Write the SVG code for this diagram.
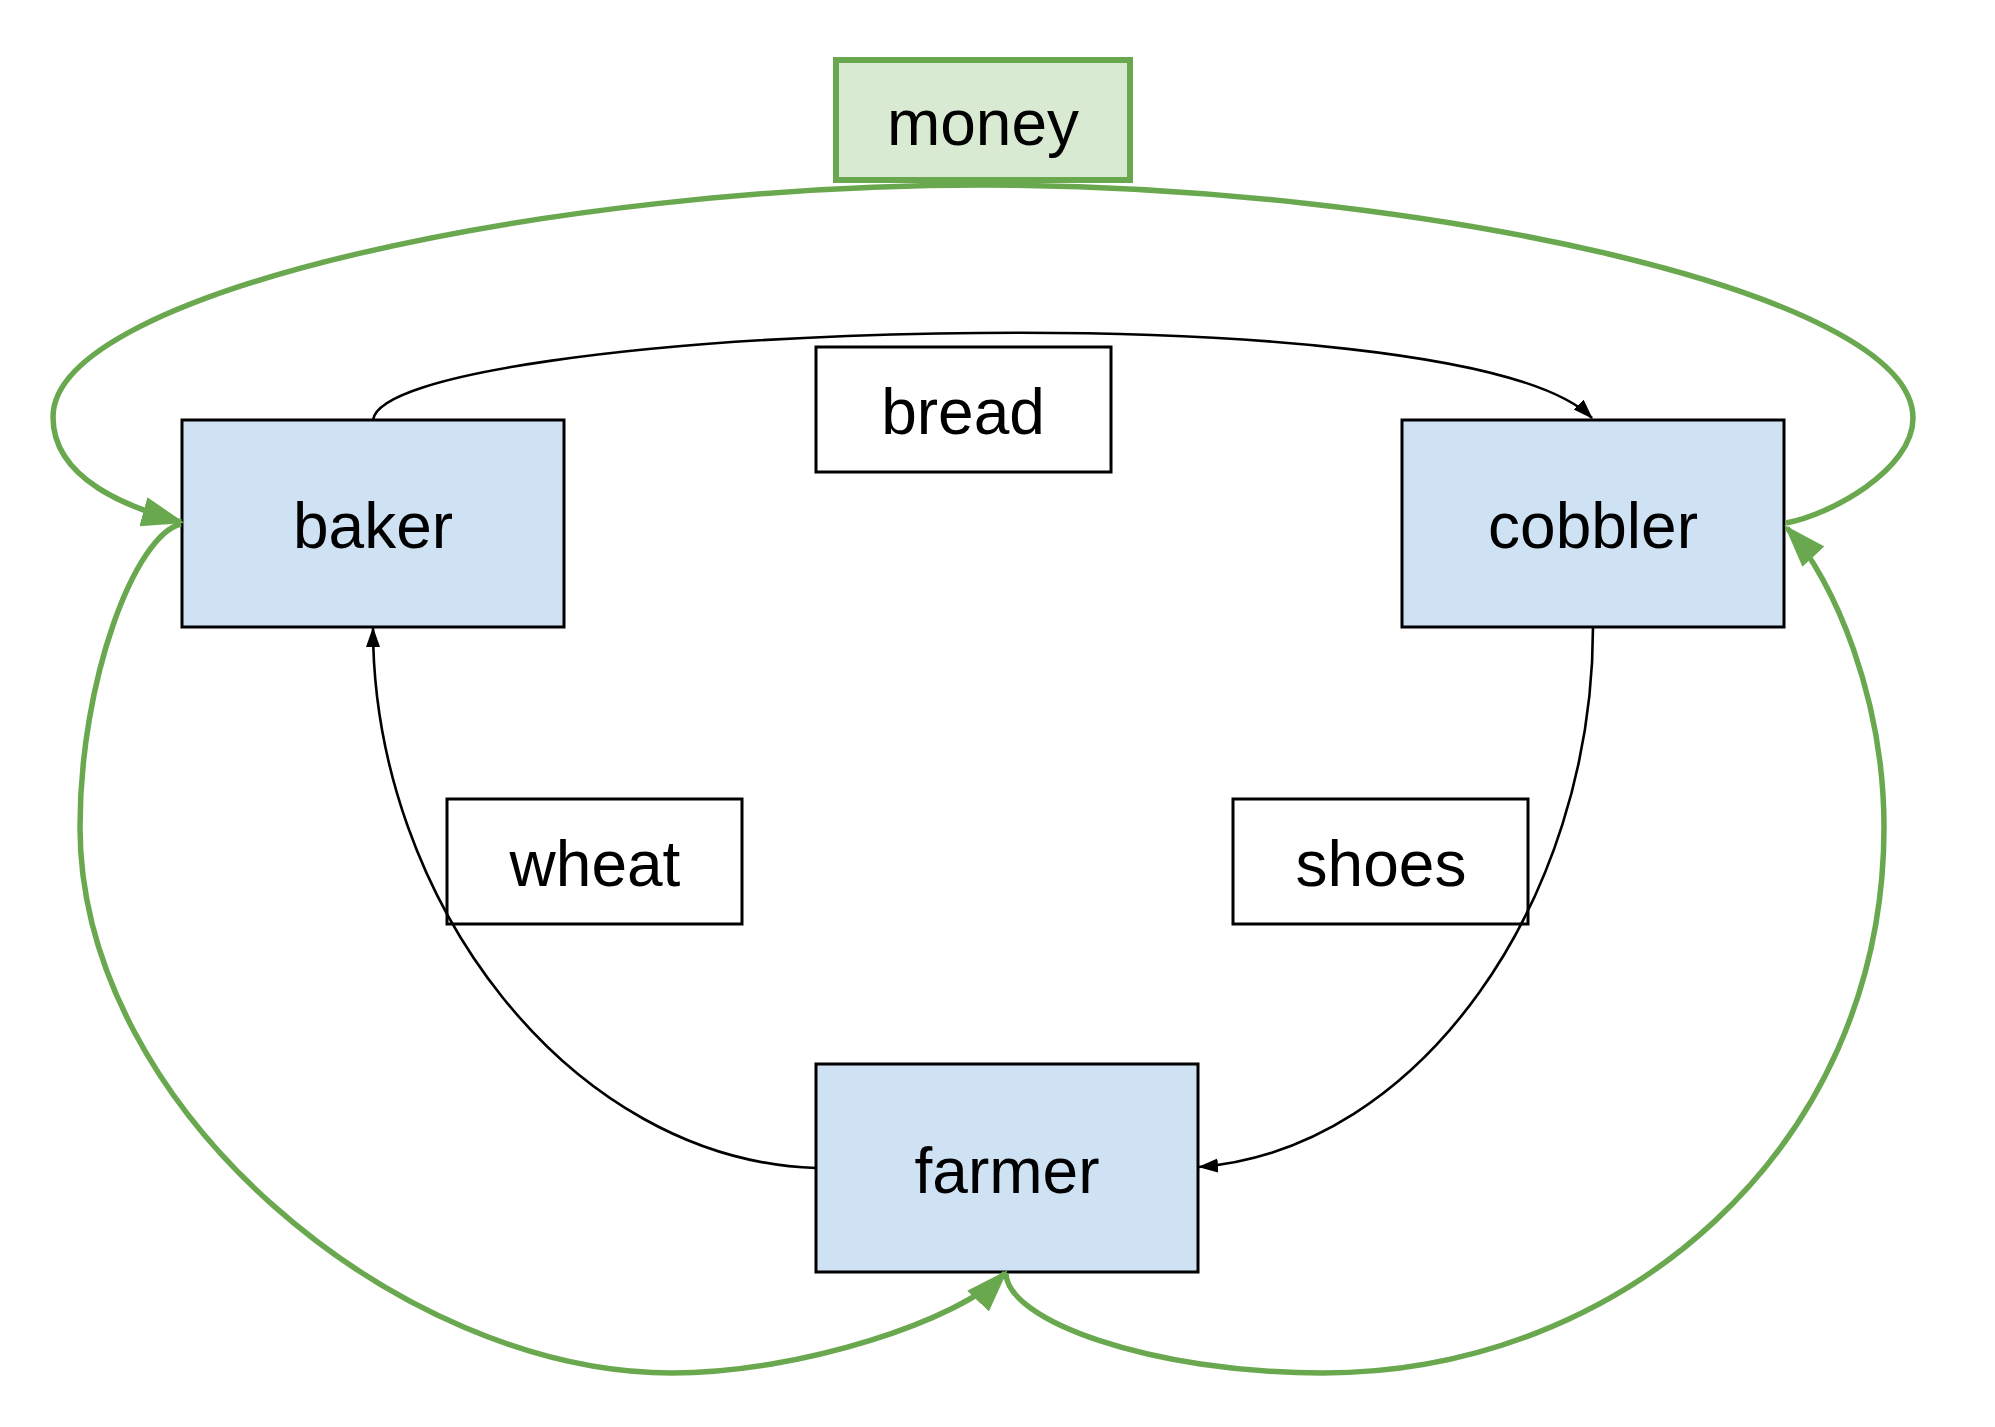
<svg xmlns="http://www.w3.org/2000/svg" width="1995" height="1427" viewBox="0 0 1995 1427">
<style>
  .node rect { fill: #cfe2f3; stroke: #000; stroke-width: 3; }
  .label rect { fill: none; stroke: #000; stroke-width: 3; }
  .money rect { fill: #d9ead3; stroke: #6aa84f; stroke-width: 6; }
  text { font-family: "Liberation Sans", Arial, sans-serif; font-size: 64px; fill: #000; text-anchor: middle; }
  .blk { fill: none; stroke: #000; stroke-width: 2.6; }
  .grn { fill: none; stroke: #6aa84f; stroke-width: 5.5; }
</style>
<defs>
  <marker id="ab" markerUnits="userSpaceOnUse" markerWidth="24" markerHeight="18" refX="19" refY="7" orient="auto">
    <path d="M0,0 L20,7 L0,14 z" fill="#000"/>
  </marker>
  <marker id="ag" markerUnits="userSpaceOnUse" markerWidth="46" markerHeight="32" refX="39" refY="15" orient="auto">
    <path d="M0,0 L43,15 L0,30 z" fill="#6aa84f"/>
  </marker>
</defs>
<rect width="1995" height="1427" fill="#fff"/>

<g id="money" class="money">
  <rect x="836" y="60" width="294" height="120"/>
  <text x="983" y="145">money</text>
</g>
<g id="baker" class="node">
  <rect x="182" y="420" width="382" height="207"/>
  <text x="373" y="548">baker</text>
</g>
<g id="cobbler" class="node">
  <rect x="1402" y="420" width="382" height="207"/>
  <text x="1593" y="548">cobbler</text>
</g>
<g id="farmer" class="node">
  <rect x="816" y="1064" width="382" height="208"/>
  <text x="1007" y="1193">farmer</text>
</g>
<g id="bread" class="label">
  <rect x="816" y="347" width="295" height="125"/>
  <text x="963" y="434">bread</text>
</g>
<g id="wheat" class="label">
  <rect x="447" y="799" width="295" height="125"/>
  <text x="595" y="886">wheat</text>
</g>
<g id="shoes" class="label">
  <rect x="1233" y="799" width="295" height="125"/>
  <text x="1381" y="886">shoes</text>
</g>

<g id="connectors">
  <path class="blk" d="M373,420 C385,325 1460,285 1592,418" marker-end="url(#ab)"/>
  <path class="blk" d="M1593,627 C1593,900 1420,1150 1199,1167" marker-end="url(#ab)"/>
  <path class="blk" d="M816,1168 C570,1160 373,900 373,628" marker-end="url(#ab)"/>
  <path class="grn" d="M1786,523 C1830,515 1913,470 1913,418 C1913,290 1406,185 983,185"/>
  <path class="grn" d="M983,185 C560,185 53,290 53,417 C53,480 130,508 181,522" marker-end="url(#ag)"/>
  <path class="grn" d="M181,524 C135,535 80,680 80,827 C80,1110 400,1373 672,1373 C800,1373 960,1320 1005,1273" marker-end="url(#ag)"/>
  <path class="grn" d="M1006,1273 C1006,1320 1150,1373 1323,1373 C1620,1373 1884,1150 1884,827 C1884,700 1835,580 1787,528" marker-end="url(#ag)"/>
</g>
</svg>
